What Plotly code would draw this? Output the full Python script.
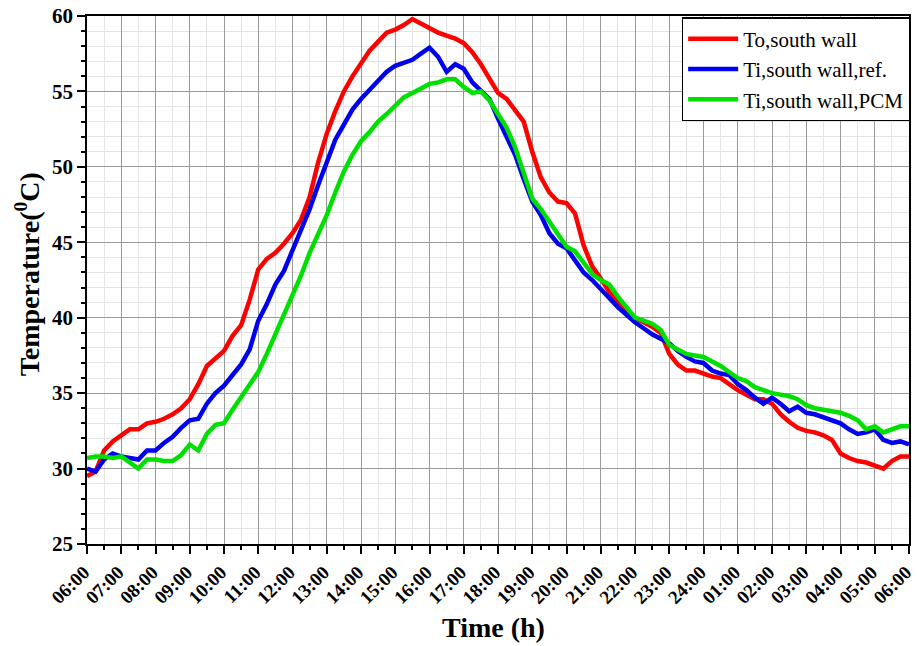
import numpy as np
import plotly.graph_objects as go

# 15-minute samples from 06:00 to 06:00 next day (hours elapsed)
hours = [i * 0.25 for i in range(97)]

tick_labels = ["06:00", "07:00", "08:00", "09:00", "10:00", "11:00", "12:00", "13:00",
               "14:00", "15:00", "16:00", "17:00", "18:00", "19:00", "20:00", "21:00",
               "22:00", "23:00", "24:00", "01:00", "02:00", "03:00", "04:00", "05:00", "06:00"]

to_south = [
    29.5, 29.8, 31.2, 31.8, 32.2, 32.6, 32.6, 33.0,   # 06:00-07:45
    33.1, 33.3, 33.6, 34.0, 34.6, 35.6, 36.8, 37.3,   # 08:00-09:45
    37.8, 38.8, 39.5, 41.2, 43.2, 43.9, 44.3, 44.9,   # 10:00-11:45
    45.6, 46.5, 48.0, 50.3, 52.2, 53.7, 55.0, 56.0,   # 12:00-13:45
    56.9, 57.7, 58.3, 58.9, 59.1, 59.4, 59.8, 59.5,   # 14:00-15:45
    59.2, 58.9, 58.7, 58.5, 58.2, 57.6, 56.8, 55.8,   # 16:00-17:45
    54.9, 54.5, 53.7, 53.0, 51.0, 49.3, 48.3, 47.7,   # 18:00-19:45
    47.6, 46.9, 44.8, 43.4, 42.6, 41.7, 41.0, 40.3,   # 20:00-21:45
    40.0, 39.7, 39.4, 39.0, 37.6, 36.9, 36.5, 36.5,   # 22:00-23:45
    36.3, 36.1, 36.0, 35.6, 35.2, 34.9, 34.6, 34.6,   # 24:00-01:45
    34.3, 33.6, 33.1, 32.7, 32.5, 32.4, 32.2, 31.9,   # 02:00-03:45
    31.0, 30.7, 30.5, 30.4, 30.2, 30.0, 30.5, 30.8,   # 04:00-05:45
    30.8]

ti_ref = [
    30.0, 29.8, 30.6, 31.0, 30.8, 30.7, 30.6, 31.2,
    31.2, 31.7, 32.1, 32.7, 33.2, 33.3, 34.3, 35.0,
    35.5, 36.2, 36.9, 37.9, 39.8, 40.9, 42.2, 43.1,
    44.5, 45.8, 47.2, 48.8, 50.4, 51.8, 52.8, 53.8,
    54.5, 55.1, 55.8, 56.3, 56.7, 56.9, 57.1, 57.5,
    57.9, 57.3, 56.3, 56.8, 56.5, 55.6, 55.0, 54.5,
    53.2, 52.0, 50.8, 49.2, 47.7, 46.8, 45.6, 44.9,
    44.6, 43.8, 43.0, 42.5, 41.9, 41.2, 40.7, 40.2,
    39.7, 39.3, 38.9, 38.6, 38.3, 37.8, 37.4, 37.1,
    37.0, 36.5, 36.3, 36.2, 35.6, 35.2, 34.7, 34.3,
    34.7, 34.3, 33.8, 34.1, 33.7, 33.6, 33.4, 33.2,
    33.0, 32.6, 32.3, 32.4, 32.6, 31.9, 31.7, 31.8,
    31.6]

ti_pcm = [
    30.7, 30.8, 30.8, 30.7, 30.8, 30.4, 30.0, 30.6,
    30.6, 30.5, 30.5, 30.9, 31.6, 31.2, 32.3, 32.9,
    33.0, 33.9, 34.7, 35.5, 36.4, 37.6, 38.9, 40.2,
    41.4, 42.8, 44.3, 45.6, 46.8, 48.3, 49.7, 50.8,
    51.7, 52.3, 53.0, 53.5, 54.1, 54.6, 54.9, 55.2,
    55.5, 55.6, 55.8, 55.8, 55.3, 54.9, 55.0, 54.4,
    53.5, 52.6, 51.3, 49.6, 47.9, 47.2, 46.4, 45.5,
    44.7, 44.4, 43.7, 42.9, 42.5, 42.2, 41.4, 40.7,
    40.0, 39.8, 39.6, 39.2, 38.2, 37.9, 37.6, 37.5,
    37.4, 37.1, 36.8, 36.4, 36.0, 35.8, 35.4, 35.2,
    35.0, 34.9, 34.8, 34.6, 34.2, 34.0, 33.9, 33.8,
    33.7, 33.5, 33.2, 32.6, 32.8, 32.4, 32.6, 32.8,
    32.8]

series_names = ["To,south wall", "Ti,south wall,ref.", "Ti,south wall,PCM"]
series_colors = ["#ff0000", "#0000ee", "#00e000"]

FONT = "Liberation Serif, Times New Roman, serif"

fig = go.Figure()
for name, vals, col in zip(series_names, [to_south, ti_ref, ti_pcm], series_colors):
    fig.add_trace(go.Scatter(x=hours, y=vals, mode="lines", name=name,
                             line=dict(color=col, width=4.5)))

fig.update_layout(
    width=917, height=646,
    margin=dict(l=87, r=6, t=16, b=102),
    paper_bgcolor="white", plot_bgcolor="white",
    font=dict(family=FONT, color="black"),
    showlegend=True,
    legend=dict(x=1.002, y=0.998, xanchor="right", yanchor="top",
                bgcolor="white", bordercolor="black", borderwidth=1.5,
                font=dict(family=FONT, size=21, color="black"),
                tracegroupgap=0, itemwidth=50),
    annotations=[
        dict(text="<b>Time (h)</b>", xref="paper", yref="paper", x=0.495, y=-0.159,
             xanchor="center", yanchor="middle", showarrow=False,
             font=dict(family=FONT, size=28, color="black")),
        dict(text="<b>Temperature(<sup>0</sup>C)</b>", xref="paper", yref="paper",
             x=-0.0728, y=0.511, xanchor="center", yanchor="middle", textangle=-90,
             showarrow=False, font=dict(family=FONT, size=28, color="black")),
    ],
)

fig.update_xaxes(
    range=[0, 24], tickmode="array", tickvals=list(range(25)), ticktext=tick_labels,
    tickangle=-45, tickfont=dict(family=FONT, size=19, color="black", weight="bold"),
    ticklabeloverflow="allow", ticklabelshift=-3,
    ticks="outside", ticklen=8, tickwidth=1.5, tickcolor="black",
    showline=True, linecolor="black", linewidth=1.5, mirror=True,
    showgrid=True, gridcolor="#9a9a9a", gridwidth=1,
    minor=dict(dtick=0.5, tick0=0, ticks="outside", ticklen=4, tickcolor="black",
               showgrid=True, gridcolor="#e4e4e4", gridwidth=1),
    zeroline=False, automargin=False,
)

fig.update_yaxes(
    range=[25, 60], tickmode="linear", tick0=25, dtick=5,
    tickfont=dict(family=FONT, size=21, color="black", weight="bold"),
    ticklabeloverflow="allow",
    ticks="outside", ticklen=8, tickwidth=1.5, tickcolor="black",
    showline=True, linecolor="black", linewidth=1.5, mirror=True,
    showgrid=True, gridcolor="#9a9a9a", gridwidth=1,
    minor=dict(dtick=1, ticks="outside", ticklen=4, tickcolor="black",
               showgrid=True, gridcolor="#e4e4e4", gridwidth=1),
    zeroline=False, automargin=False,
)

fig.write_html("out.html", config={"displayModeBar": False},
               post_script="document.body.style.margin='0px';")
